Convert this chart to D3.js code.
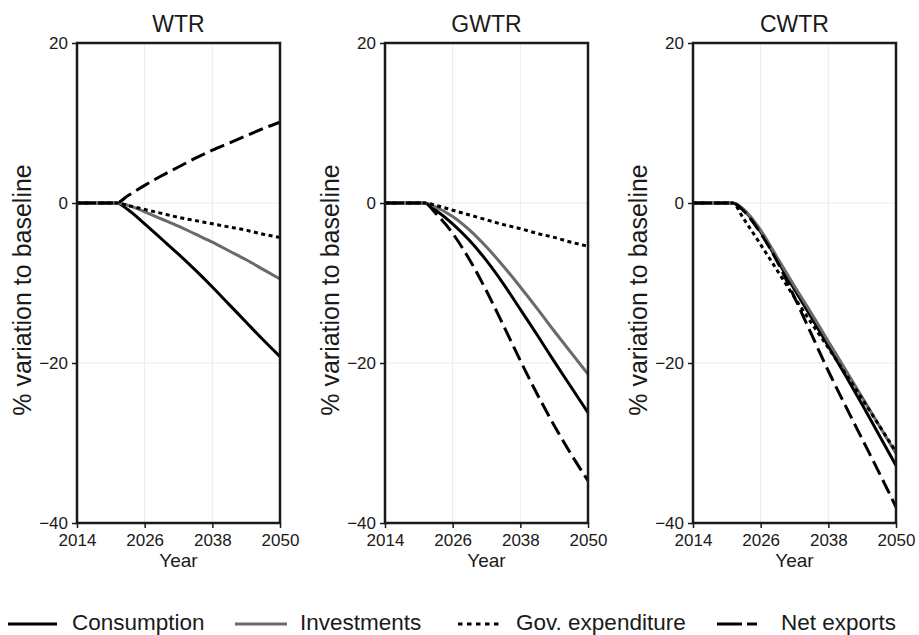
<!DOCTYPE html>
<html>
<head>
<meta charset="utf-8">
<script src="https://cdn.jsdelivr.net/npm/d3@7"></script>
<style>
  body { margin: 0; background: #fff; }
  svg { display: block; font-family: "Liberation Sans", Arial, Helvetica, sans-serif; }
</style>
</head>
<body>
<div id="chart"></div>
<script>
// data
const years = [2014, 2018, 2021, 2023, 2026, 2029, 2032, 2035, 2038, 2041, 2044, 2047, 2050];
const panels = ['WTR', 'GWTR', 'CWTR'];
const seriesNames = ['Consumption', 'Investments', 'Gov. expenditure', 'Net exports'];
const yTicks = [20, 0, -20, -40];
const xTicks = [2014, 2026, 2038, 2050];

const wtrConsumption = [0, 0, 0, -0.8, -2.6, -4.5, -6.4, -8.4, -10.5, -12.7, -14.9, -17.1, -19.2];
const wtrInvestments = [0, 0, 0, -0.3, -1.1, -2.0, -2.9, -3.9, -4.9, -6.0, -7.1, -8.3, -9.5];
const wtrGovExp = [0, 0, 0, -0.3, -0.8, -1.3, -1.8, -2.2, -2.6, -3.0, -3.4, -3.9, -4.3];
const wtrNetExports = [0, 0, 0, 0.9, 2.2, 3.4, 4.5, 5.6, 6.6, 7.5, 8.4, 9.3, 10.1];

const gwtrConsumption = [0, 0, 0, -0.9, -2.6, -4.7, -7.2, -10.1, -13.3, -16.5, -19.8, -23.0, -26.2];
const gwtrInvestments = [0, 0, 0, -0.5, -1.7, -3.4, -5.5, -7.9, -10.5, -13.2, -16.0, -18.7, -21.4];
const gwtrGovExp = [0, 0, 0, -0.3, -0.9, -1.5, -2.1, -2.7, -3.2, -3.8, -4.3, -4.9, -5.4];
const gwtrNetExports = [0, 0, 0, -1.3, -3.8, -7.1, -11.0, -15.3, -19.7, -23.9, -27.8, -31.4, -34.7];

const cwtrConsumption = [0, 0, 0, -0.9, -3.6, -7.2, -10.8, -14.3, -17.9, -21.5, -25.2, -29.0, -32.8];
const cwtrInvestments = [0, 0, 0, -0.8, -3.4, -6.9, -10.4, -13.8, -17.3, -20.8, -24.3, -27.8, -31.3];
const cwtrGovExp = [0, 0, 0, -2.0, -5.2, -8.5, -11.8, -15.0, -18.1, -21.3, -24.5, -27.8, -31.1];
const cwtrNetExports = [0, 0, 0, -1.0, -3.8, -7.4, -11.8, -16.4, -21.0, -25.3, -29.5, -33.7, -38.0];

const panelData = [
  [wtrConsumption, wtrInvestments, wtrGovExp, wtrNetExports],
  [gwtrConsumption, gwtrInvestments, gwtrGovExp, gwtrNetExports],
  [cwtrConsumption, cwtrInvestments, cwtrGovExp, cwtrNetExports]
];

// styles per series
const styles = [
  { color: '#000', width: 3, dash: null },
  { color: '#6a6a6a', width: 3, dash: null },
  { color: '#000', width: 3, dash: '4,3.5' },
  { color: '#000', width: 3, dash: '15,6' }
];

const w = 919;
const h = 635;
const panelLeft = [77, 385, 693];
const plotW = 203;
const plotTop = 43;
const plotBottom = 523;

const svg = d3.select('#chart')
  .append('svg')
  .attr('width', w)
  .attr('height', h);

const y = d3.scaleLinear()
  .domain([-40, 20])
  .range([plotBottom, plotTop]);

panels.forEach((name, p) => {
  const x = d3.scaleLinear()
    .domain([2014, 2050])
    .range([panelLeft[p], panelLeft[p] + plotW]);

  const g = svg.append('g');

  // grid
  g.selectAll('.gx')
    .data(xTicks)
    .enter()
    .append('line')
    .attr('x1', d => x(d)).attr('x2', d => x(d))
    .attr('y1', plotTop).attr('y2', plotBottom)
    .attr('stroke', '#ebebeb').attr('stroke-width', 1);
  g.selectAll('.gy')
    .data(yTicks)
    .enter()
    .append('line')
    .attr('x1', x(2014)).attr('x2', x(2050))
    .attr('y1', d => y(d)).attr('y2', d => y(d))
    .attr('stroke', '#ebebeb').attr('stroke-width', 1);

  // series
  const line = d3.line()
    .x((d, i) => x(years[i]))
    .y(d => y(d))
    .curve(d3.curveMonotoneX);

  panelData[p].forEach((vals, s) => {
    g.append('path')
      .datum(vals)
      .attr('d', line)
      .attr('fill', 'none')
      .attr('stroke', styles[s].color)
      .attr('stroke-width', styles[s].width)
      .attr('stroke-dasharray', styles[s].dash);
  });

  // frame
  g.append('rect')
    .attr('x', x(2014)).attr('y', plotTop)
    .attr('width', plotW).attr('height', plotBottom - plotTop)
    .attr('fill', 'none')
    .attr('stroke', '#1a1a1a')
    .attr('stroke-width', 2.5);

  // axes
  const yAxis = d3.axisLeft(y)
    .tickValues(yTicks)
    .tickSize(5)
    .tickPadding(4)
    .tickFormat(d => d < 0 ? '\u2212' + Math.abs(d) : d);
  g.append('g')
    .attr('transform', 'translate(' + x(2014) + ',0)')
    .call(yAxis)
    .call(a => a.select('.domain').remove())
    .call(a => a.selectAll('line').attr('stroke', '#1a1a1a').attr('stroke-width', 1.5))
    .call(a => a.selectAll('text').attr('font-size', 17).attr('fill', '#1a1a1a').style('font-family', null));

  const xAxis = d3.axisBottom(x)
    .tickValues(xTicks)
    .tickSize(5)
    .tickPadding(6)
    .tickFormat(d3.format('d'));
  g.append('g')
    .attr('transform', 'translate(0,' + plotBottom + ')')
    .call(xAxis)
    .call(a => a.select('.domain').remove())
    .call(a => a.selectAll('line').attr('stroke', '#1a1a1a').attr('stroke-width', 1.5))
    .call(a => a.selectAll('text').attr('font-size', 17).attr('fill', '#1a1a1a').style('font-family', null));

  // titles
  const cx = panelLeft[p] + plotW / 2;
  g.append('text')
    .attr('x', cx).attr('y', 32)
    .attr('text-anchor', 'middle')
    .attr('font-size', 23)
    .attr('fill', '#1a1a1a')
    .text(name);

  g.append('text')
    .attr('x', cx).attr('y', 567)
    .attr('text-anchor', 'middle')
    .attr('font-size', 19)
    .attr('fill', '#1a1a1a')
    .text('Year');

  g.append('text')
    .attr('transform', 'translate(' + (panelLeft[p] - 46) + ',' + 290 + ') rotate(-90)')
    .attr('text-anchor', 'middle')
    .attr('font-size', 25)
    .attr('fill', '#1a1a1a')
    .text('% variation to baseline');
});

// legend
const legendKeyX = [8, 235, 458, 717];
const legendKeyLen = [49, 52, 42, 40];
const legendTextX = [72, 300, 516, 781];
const legendDash = [null, null, '4.5,4.5', '25,5'];
const legendY = 624;

seriesNames.forEach((name, s) => {
  svg.append('line')
    .attr('x1', legendKeyX[s]).attr('x2', legendKeyX[s] + legendKeyLen[s])
    .attr('y1', legendY).attr('y2', legendY)
    .attr('stroke', styles[s].color)
    .attr('stroke-width', 3)
    .attr('stroke-dasharray', legendDash[s]);
  svg.append('text')
    .attr('x', legendTextX[s]).attr('y', 630)
    .attr('font-size', 22.5)
    .attr('fill', '#1a1a1a')
    .text(name);
});
</script>
</body>
</html>
